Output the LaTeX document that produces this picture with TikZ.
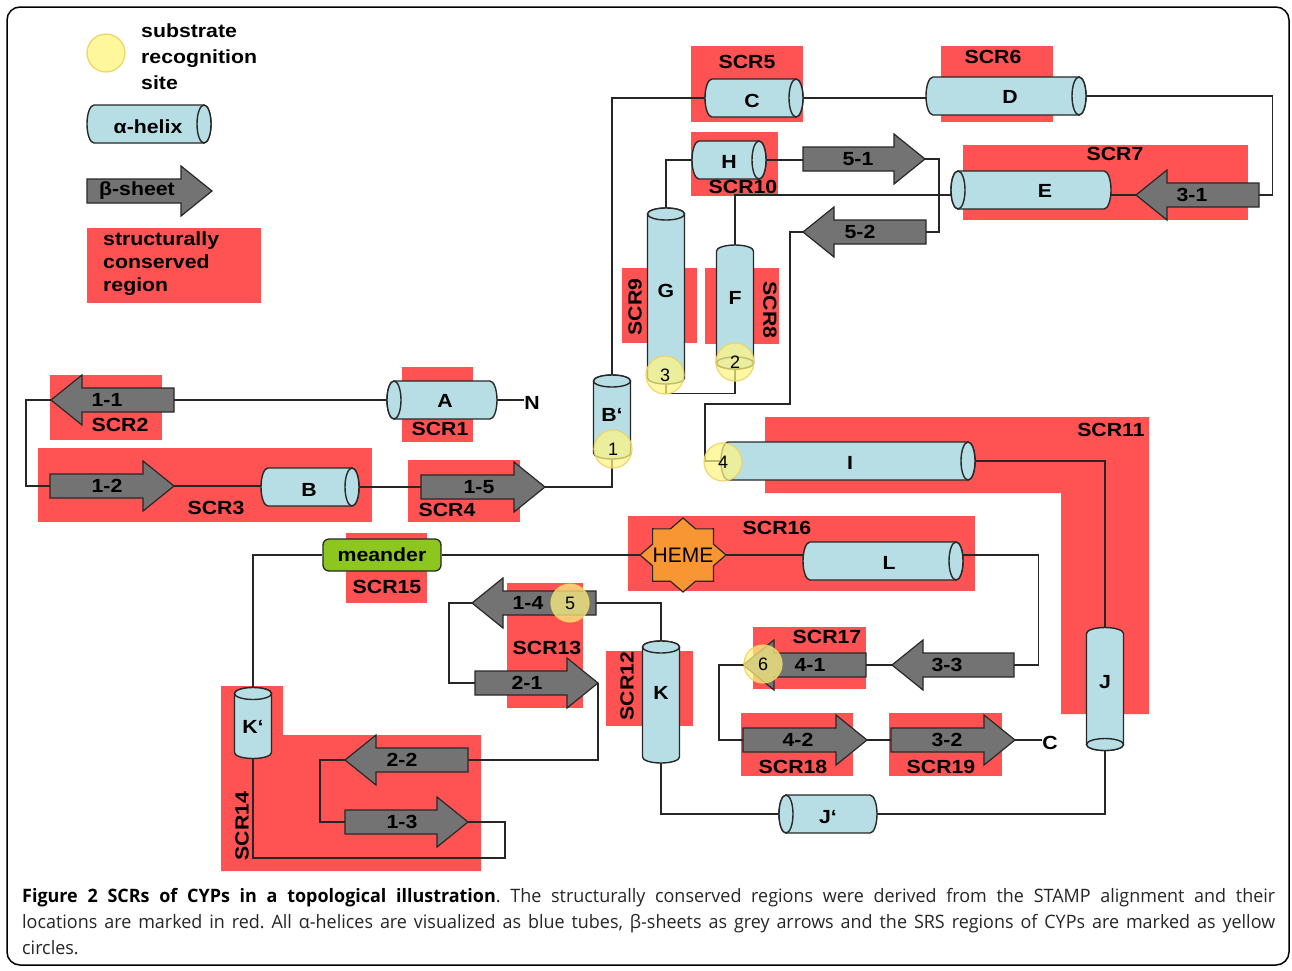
\documentclass[tikz,border=0pt]{standalone}
\usepackage{fontspec}
\setmainfont{Liberation Sans}
\newfontfamily\lblf[FakeStretch=1.12]{Liberation Sans}
\newfontfamily\capf[FakeStretch=0.97]{Open Sans}
\usetikzlibrary{calc}
\pgfdeclarelayer{bg}\pgfdeclarelayer{lines}\pgfdeclarelayer{fg}
\pgfsetlayers{bg,lines,main,fg}
\frenchspacing
\definecolor{scrred}{RGB}{255,82,82}
\definecolor{helixblue}{RGB}{183,222,228}
\definecolor{sheetgrey}{RGB}{115,115,115}
\definecolor{srsyellow}{RGB}{255,245,130}
\definecolor{srsedge}{RGB}{238,210,100}
\definecolor{meandergreen}{RGB}{141,198,31}
\definecolor{hemeorange}{RGB}{247,150,50}
\definecolor{outl}{RGB}{40,40,40}
\tikzset{
  lbl/.style={font={\lblf\fontsize{19}{21}\selectfont\bfseries}, inner sep=0pt},
  conn/.style={draw=black!85, line width=1.3pt},
  helixline/.style={draw=outl, line width=1.4pt, fill=helixblue},
  sheet/.style={draw=outl, line width=1.2pt, fill=sheetgrey},
  srs/.style={circle, fill=srsyellow, fill opacity=0.72, draw=srsedge, draw opacity=0.9,
    line width=1.2pt, minimum size=38pt, inner sep=0pt, text opacity=1,
    font={\fontsize{18}{19}\selectfont}},
  hemestyle/.style={draw=outl, line width=1.2pt, fill=hemeorange},
}
% horizontal helix: name, cx, cy, width, R/L end, label x, label y, label
\newcommand\HHelix[8]{%
  \pgfmathsetmacro\myHxa{#2-#4/2}\pgfmathsetmacro\myHxb{#2+#4/2}%
  \path[helixline] (\myHxb-7,#3-19) -- (\myHxa+7,#3-19)
     arc[start angle=90,end angle=270,x radius=7pt,y radius=19pt]
     -- (\myHxb-7,#3+19)
     arc[start angle=-90,end angle=90,x radius=7pt,y radius=19pt] -- cycle;
  \if R#5 \path[helixline] (\myHxb-7,#3) ellipse[x radius=7pt,y radius=19pt];
  \else \path[helixline] (\myHxa+7,#3) ellipse[x radius=7pt,y radius=19pt]; \fi
  \node[inner sep=0pt, minimum width=#4pt, minimum height=38pt] (#1) at (#2,#3) {};
  \node[lbl] (#1l) at (#6,#7) {#8};
}
% vertical helix: name, cx, cy, height, T/B end, label y, label
\newcommand\VHelix[7]{%
  \pgfmathsetmacro\myVya{#3-#4/2}\pgfmathsetmacro\myVyb{#3+#4/2}%
  \path[helixline] (#2-18.5,\myVya+6)
     arc[start angle=180,end angle=0,x radius=18.5pt,y radius=6pt]
     -- (#2+18.5,\myVyb-6)
     arc[start angle=0,end angle=-180,x radius=18.5pt,y radius=6pt] -- cycle;
  \if T#5 \path[helixline] (#2,\myVya+6) ellipse[x radius=18.5pt,y radius=6pt];
  \else \path[helixline] (#2,\myVyb-6) ellipse[x radius=18.5pt,y radius=6pt]; \fi
  \node[inner sep=0pt, minimum width=37pt, minimum height=#4pt] (#1) at (#2,#3) {};
  \node[lbl] (#1l) at (#2,#6) {#7};
}
% beta sheet arrow: name, tail x, tip x, cy, label x, label
\newcommand\Sheet[6]{%
  \pgfmathsetmacro\mySHb{#3+31*sign(#2-#3)}%
  \path[sheet] (#2,#4-12) -- (\mySHb,#4-12) -- (\mySHb,#4-25) -- (#3,#4)
     -- (\mySHb,#4+25) -- (\mySHb,#4+12) -- (#2,#4+12) -- cycle;
  \coordinate (#1t) at (#2,#4);
  \coordinate (#1h) at (#3,#4);
  \node[lbl] (#1) at (#5,#4) {#6};
}
\newcommand\RedBox[4]{%
  \begin{pgfonlayer}{bg}\fill[scrred] (#1,#2) rectangle (#3,#4);\end{pgfonlayer}}
\begin{document}
\begin{tikzpicture}[x=1pt,y=-1pt]
\useasboundingbox (0,0) rectangle (1292,970);
\begin{pgfonlayer}{bg}
\fill[white] (0,0) rectangle (1292,970);
\fill[scrred] (765,417) -- (1149,417) -- (1149,714) -- (1061,714) -- (1061,493) -- (765,493) -- cycle;
\fill[scrred] (221,686) -- (283,686) -- (283,735) -- (481,735) -- (481,871) -- (221,871) -- cycle;
\end{pgfonlayer}
\draw[line width=1.5pt, rounded corners=13pt] (7,7) rectangle (1289,965);

% ---------- legend ----------
\node[circle, fill=srsyellow!80!white, draw=srsedge, line width=1.2pt, minimum size=38pt, inner sep=0pt] (lgsrs) at (106,53) {};
\node[lbl, align=left, anchor=west, font={\lblf\fontsize{19}{26}\selectfont\bfseries}] (lgsrst) at (141,57) {substrate\\recognition\\site};
\HHelix{lgH}{149}{124}{124}{R}{148}{127}{α-helix}
\Sheet{lgS}{87}{212}{191}{137}{β-sheet}
\RedBox{87}{228}{261}{303}
\node[lbl, align=left, anchor=west, font={\lblf\fontsize{19}{23}\selectfont\bfseries}] (lgred) at (103,264) {structurally\\conserved\\region};

% ---------- red regions ----------
\RedBox{691}{46}{803}{122}
\RedBox{941}{46}{1053}{122}
\RedBox{963}{145}{1248}{220}
\RedBox{691}{132}{778}{196}
\RedBox{622}{268}{697}{343}
\RedBox{705}{268}{779}{344}
\RedBox{50}{375}{162}{440}
\RedBox{402}{367}{473}{442}
\RedBox{38}{448}{372}{522}
\RedBox{408}{460}{520}{522}
\RedBox{628}{516}{975}{591}
\RedBox{346}{533}{427}{603}
\RedBox{507}{583}{583}{708}
\RedBox{606}{651}{693}{726}
\RedBox{753}{627}{866}{689}
\RedBox{741}{713}{853}{776}
\RedBox{889}{713}{1002}{776}

% ---------- helices and sheets ----------
\HHelix{hC}{754}{98}{98}{R}{752}{101}{C}
\HHelix{hD}{1006}{96}{160}{R}{1010}{97}{D}
\HHelix{hE}{1031}{190}{160}{L}{1045}{191}{E}
\Sheet{s31}{1259}{1136}{195}{1192}{3-1}
\HHelix{hH}{729}{160}{74}{R}{729}{162}{H}
\Sheet{s51}{803}{925}{159}{858}{5-1}
\Sheet{s52}{926}{803}{232}{860}{5-2}
\VHelix{hG}{666}{296}{176}{T}{291}{G}
\VHelix{hF}{735}{307}{124}{B}{298}{F}
\VHelix{hBp}{612}{417}{84}{T}{415}{B‘}
\HHelix{hA}{442}{400}{110}{L}{445}{401}{A}
\Sheet{s11}{174}{51}{400}{107}{1-1}
\Sheet{s12}{50}{174}{486}{107}{1-2}
\HHelix{hB}{310}{487}{98}{R}{309}{490}{B}
\Sheet{s15}{421}{545}{487}{479}{1-5}
\HHelix{hI}{848}{461}{254}{R}{850}{463}{I}
\VHelix{hJ}{1105}{689}{123}{B}{682}{J}
\HHelix{hJp}{828}{814}{98}{L}{828}{817}{J‘}
\VHelix{hK}{661}{702}{122}{T}{693}{K}
\Sheet{s14}{596}{472}{603}{528}{1-4}
\Sheet{s21}{475}{598}{683}{527}{2-1}
\Sheet{s22}{468}{345}{760}{402}{2-2}
\Sheet{s13}{345}{468}{822}{402}{1-3}
\VHelix{hKp}{253}{723}{71}{T}{727}{K‘}
\node[lbl, draw=outl, line width=1.3pt, fill=meandergreen, rounded corners=6pt,
      minimum width=118pt, minimum height=32pt] (mea) at (382,555) {meander};
\draw[hemestyle] (726,555) \foreach \k in {1,...,15} {
   -- ({683+43*(1-0.235*mod(\k,2))*cos(\k*22.5)}, {555+37*(1-0.235*mod(\k,2))*sin(\k*22.5)}) } -- cycle;
\coordinate (hemeW) at (640,555);
\coordinate (hemeE) at (726,555);
\node[inner sep=0pt, font={\fontsize{21}{23}\selectfont}] (heme) at (683,555) {HEME};
\HHelix{hL}{883}{561}{160}{R}{889}{563}{L}
\Sheet{s33}{1014}{892}{665}{947}{3-3}
\Sheet{s41}{866}{743}{665}{810}{4-1}
\Sheet{s42}{743}{867}{740}{798}{4-2}
\Sheet{s32}{891}{1015}{740}{947}{3-2}
\node[lbl] (Cterm) at (1050,743) {C};
\node[lbl] (Nterm) at (532,403) {N};

% ---------- region labels ----------
\node[lbl] (l5) at (747,62) {SCR5};
\node[lbl] (l6) at (993,57) {SCR6};
\node[lbl] (l7) at (1115,154) {SCR7};
\node[lbl] (l10) at (743,187) {SCR10};
\node[lbl, rotate=90] (l9) at (635,307) {SCR9};
\node[lbl, rotate=-90] (l8) at (770,310) {SCR8};
\node[lbl] (l2) at (120,425) {SCR2};
\node[lbl] (l1) at (440,429) {SCR1};
\node[lbl] (l3) at (216,508) {SCR3};
\node[lbl] (l4) at (447,510) {SCR4};
\node[lbl] (l11) at (1111,430) {SCR11};
\node[lbl] (l16) at (777,528) {SCR16};
\node[lbl] (l15) at (387,587) {SCR15};
\node[lbl] (l13) at (547,648) {SCR13};
\node[lbl, rotate=90] (l12) at (627,686) {SCR12};
\node[lbl] (l17) at (827,637) {SCR17};
\node[lbl] (l18) at (793,767) {SCR18};
\node[lbl] (l19) at (941,767) {SCR19};
\node[lbl, rotate=90] (l14) at (242,826) {SCR14};

% ---------- substrate recognition sites ----------
\begin{pgfonlayer}{fg}
\node[srs] (c1) at (613,449) {1};
\node[srs] (c2) at (735,362) {2};
\node[srs] (c3) at (665,375) {3};
\node[srs] (c4) at (723,462) {4};
\node[srs] (c5) at (570,603) {5};
\node[srs] (c6) at (763,664) {6};
\end{pgfonlayer}

% ---------- connectors ----------
\begin{pgfonlayer}{lines}
\draw[conn] (hA.east) -- (Nterm.west |- hA.east);
\draw[conn] (hA.west) -- (s11t);
\draw[conn] (s11h) -- ++(-25,0) |- (s12t);
\draw[conn] (s12h) -- (s12h -| hB.west);
\draw[conn] (hB.east) -- (s15t);
\draw[conn] (s15h) -| (hBp.south);
\draw[conn] (hBp.north) |- (hC.west);
\draw[conn] (hC.east) -- (hC.east -| hD.west);
\draw[conn] (hD.east) -- ++(186,0) |- (s31t);
\draw[conn] (s31h) -- (s31h -| hE.east);
\draw[conn] (hE.west |- s31h) -| (hF.north);
\draw[conn] (hF.south) -- ++(0,24) -| (hG.south);
\draw[conn] (hG.north) |- (hH.west);
\draw[conn] (hH.east) -- (hH.east -| s51t);
\draw[conn] (s51h) -- ++(14,0) |- (s52t);
\draw[conn] (s52h) -- ++(-13,0) -- ++(0,172) -- ++(-85,0) |- (hI.west);
\draw[conn] (hI.east) -| (hJ.north);
\draw[conn] (hJ.south) |- (hJp.east);
\draw[conn] (hJp.west) -| (hK.south);
\draw[conn] (hK.north) |- (s14t);
\draw[conn] (s14h) -- ++(-23,0) |- (s21t);
\draw[conn] (s21h) |- (s22t);
\draw[conn] (s22h) -- ++(-25,0) |- (s13t);
\draw[conn] (s13h) -- ++(37,0) -- ++(0,36) -| (hKp.south);
\draw[conn] (hKp.north) |- (mea.west);
\draw[conn] (mea.east) -- (hemeW);
\draw[conn] (hemeE) -- (hemeE -| hL.west);
\draw[conn] (hL.east |- hemeE) -- ++(75,0) |- (s33t);
\draw[conn] (s33h) -- (s41t);
\draw[conn] (s41h) -- ++(-24,0) |- (s42t);
\draw[conn] (s42h) -- (s32t);
\draw[conn] (s32h) -- (Cterm.west |- s32h);
\end{pgfonlayer}

% ---------- caption ----------
\node[anchor=north west, text width=1253pt, inner sep=0pt, align=justify,
      font={\capf\fontsize{18.5}{26}\selectfont}, text=black!85] (cap) at (22,888)
 {\textbf{\color{black}Figure 2 SCRs of CYPs in a topological illustration}. The structurally conserved regions were derived from the STAMP alignment and their\linebreak locations are marked in red. All α-helices are visualized as blue tubes, β-sheets as grey arrows and the SRS regions of CYPs are marked as yellow\linebreak circles.};
\end{tikzpicture}
\end{document}
